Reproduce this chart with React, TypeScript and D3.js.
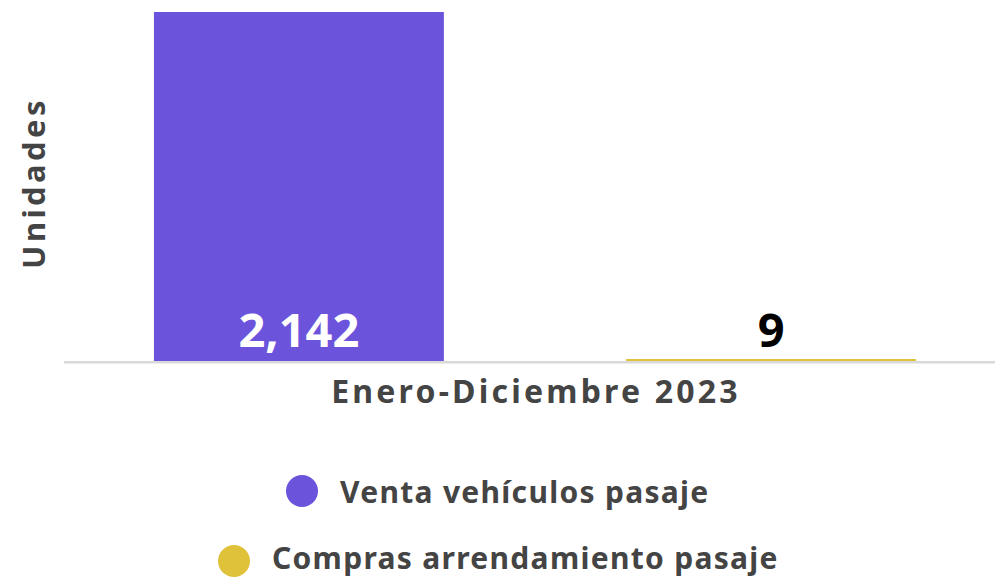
import { useEffect, useRef } from 'react';
import * as d3 from 'd3';

const categories = ['Enero-Diciembre 2023'];
const seriesNames = ['Venta vehículos pasaje', 'Compras arrendamiento pasaje'];
const seriesValues = [2142, 9];
const seriesColors = ['#6c53db', '#e0c23a'];
const yTitle = 'Unidades';

const W = 995;
const H = 578;
const FONT = '"Noto Sans", sans-serif';

export default function App() {
  const svgRef = useRef<SVGSVGElement>(null);

  useEffect(() => {
    if (!svgRef.current) return;
    const svg = d3.select(svgRef.current);
    svg.selectAll('*').remove();

    const plot = { left: 64, right: 1006, top: 12, bottom: 361 };

    const x0 = d3.scaleBand<string>()
      .domain(categories)
      .range([plot.left, plot.right])
      .paddingInner(0)
      .paddingOuter(0.118);

    const x1 = d3.scaleBand<string>()
      .domain(seriesNames)
      .range([0, x0.bandwidth()])
      .paddingInner(0.386)
      .paddingOuter(0);

    const y = d3.scaleLinear()
      .domain([0, d3.max(seriesValues) as number])
      .range([plot.bottom, plot.top]);

    const g = svg.append('g').style('font-family', FONT).style('font-weight', 700);

    // bars
    const group = g.selectAll('g.cat')
      .data(categories)
      .join('g')
      .attr('class', 'cat')
      .attr('transform', d => `translate(${x0(d)},0)`);

    group.selectAll('rect')
      .data(seriesNames.map((name, i) => ({ name, value: seriesValues[i], color: seriesColors[i] })))
      .join('rect')
      .attr('x', d => x1(d.name) as number)
      .attr('y', d => Math.min(y(d.value), plot.bottom - 2))
      .attr('width', x1.bandwidth())
      .attr('height', d => Math.max(plot.bottom - y(d.value), 2))
      .attr('fill', d => d.color);

    // baseline
    g.append('line')
      .attr('x1', plot.left)
      .attr('x2', W)
      .attr('y1', plot.bottom + 1.3)
      .attr('y2', plot.bottom + 1.3)
      .attr('stroke', '#d9d9d9')
      .attr('stroke-width', 2.6);

    // data labels
    group.selectAll('text.val')
      .data(seriesNames.map((name, i) => ({ name, value: seriesValues[i], idx: i })))
      .join('text')
      .attr('class', 'val')
      .attr('x', d => (x1(d.name) as number) + x1.bandwidth() / 2)
      .attr('y', plot.bottom - 14)
      .attr('text-anchor', 'middle')
      .attr('font-size', 47)
      .attr('fill', d => (d.idx === 0 ? '#ffffff' : '#000000'))
      .text(d => d3.format(',')(d.value));

    // x labels
    g.selectAll('text.xlab')
      .data(categories)
      .join('text')
      .attr('class', 'xlab')
      .attr('x', d => (x0(d) as number) + x0.bandwidth() / 2 + 1)
      .attr('y', 403)
      .attr('text-anchor', 'middle')
      .attr('font-size', 32)
      .attr('letter-spacing', 3.2)
      .attr('fill', '#444444')
      .text(d => d);

    // y title
    g.append('text')
      .attr('transform', 'translate(45,183) rotate(-90)')
      .attr('text-anchor', 'middle')
      .attr('font-size', 31)
      .attr('letter-spacing', 3.4)
      .attr('fill', '#444444')
      .text(yTitle);

    // legend
    const legendRows = [
      { cx: 302, cy: 491, tx: 340, ty: 503 },
      { cx: 234, cy: 561, tx: 272, ty: 569 },
    ];
    const legend = g.selectAll('g.leg')
      .data(seriesNames.map((name, i) => ({ name, color: seriesColors[i], ...legendRows[i] })))
      .join('g')
      .attr('class', 'leg');
    legend.append('circle')
      .attr('cx', d => d.cx)
      .attr('cy', d => d.cy)
      .attr('r', 16)
      .attr('fill', d => d.color);
    legend.append('text')
      .attr('x', d => d.tx)
      .attr('y', d => d.ty)
      .attr('font-size', 30)
      .attr('letter-spacing', 1.3)
      .attr('fill', '#444444')
      .text(d => d.name);
  }, []);

  return (
    <svg
      ref={svgRef}
      width={W}
      height={H}
      style={{ position: 'absolute', left: 0, top: 0, background: '#ffffff' }}
    />
  );
}
